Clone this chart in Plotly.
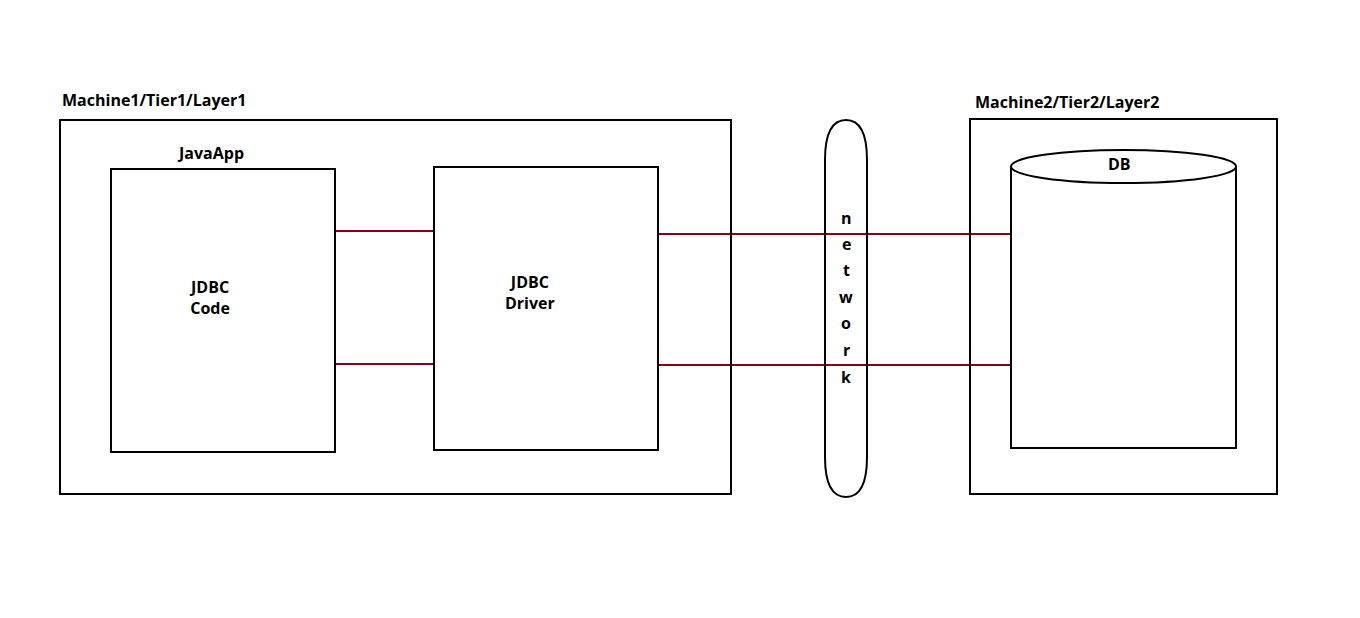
import plotly.graph_objects as go

W, H = 1360, 618
OFF = 8  # page body margin offset

# rectangles: (x0, y0, x1, y1) in pixel space
black_boxes = [
    (60, 120, 731, 494),     # Machine1
    (111, 169, 335, 452),    # JDBC Code
    (434, 167, 658, 450),    # JDBC Driver
    (970, 119, 1277, 494),   # Machine2
]
red_boxes = [
    (335, 231, 434, 364),
    (658, 234, 1012, 365),
]

# text labels: (x, y, text, anchor)
labels = [
    (60, 100, "Machine1/Tier1/Layer1", "left"),
    (973, 102, "Machine2/Tier2/Layer2", "left"),
    (210, 153, "JavaApp", "center"),
    (209, 297, "JDBC<br>Code", "center"),
    (530, 292, "JDBC<br>Driver", "center"),
    (1119, 164, "DB", "center"),
]
network_letters = list("network")
network_y = [218, 244, 270, 297, 323, 350, 377]

fig = go.Figure()
shapes = []
for x0, y0, x1, y1 in red_boxes:
    shapes.append(dict(type="rect", x0=x0, y0=y0, x1=x1, y1=y1,
                       line=dict(color="#880015", width=2)))
for x0, y0, x1, y1 in black_boxes:
    shapes.append(dict(type="rect", x0=x0, y0=y0, x1=x1, y1=y1,
                       line=dict(color="black", width=2)))

# network pill
shapes.append(dict(type="path",
                   path="M 825,160 Q 825,120 846,120 Q 867,120 867,160 L 867,457 "
                        "Q 867,497 846,497 Q 825,497 825,457 Z",
                   line=dict(color="black", width=2)))

# DB cylinder
shapes.append(dict(type="path",
                   path="M 1011,166 L 1011,448 L 1236,448 L 1236,166",
                   line=dict(color="black", width=2), fillcolor="white"))
shapes.append(dict(type="circle", x0=1011, y0=150, x1=1236, y1=183,
                   line=dict(color="black", width=2), fillcolor="white"))

annotations = []
for x, y, t, a in labels:
    annotations.append(dict(x=x, y=y, text="<b>" + t + "</b>", showarrow=False,
                            xanchor=a, yanchor="middle",
                            font=dict(family="Open Sans", size=16, color="black")))
for ch, y in zip(network_letters, network_y):
    annotations.append(dict(x=846, y=y, text="<b>" + ch + "</b>", showarrow=False,
                            font=dict(family="Open Sans", size=16, color="black")))

fig.update_layout(
    width=W, height=H,
    margin=dict(l=0, r=0, t=0, b=0),
    paper_bgcolor="white", plot_bgcolor="white",
    xaxis=dict(range=[OFF, W + OFF], visible=False, fixedrange=True),
    yaxis=dict(range=[H + OFF, OFF], visible=False, fixedrange=True),
    shapes=shapes, annotations=annotations, showlegend=False,
)

fig.write_html("out.html")
